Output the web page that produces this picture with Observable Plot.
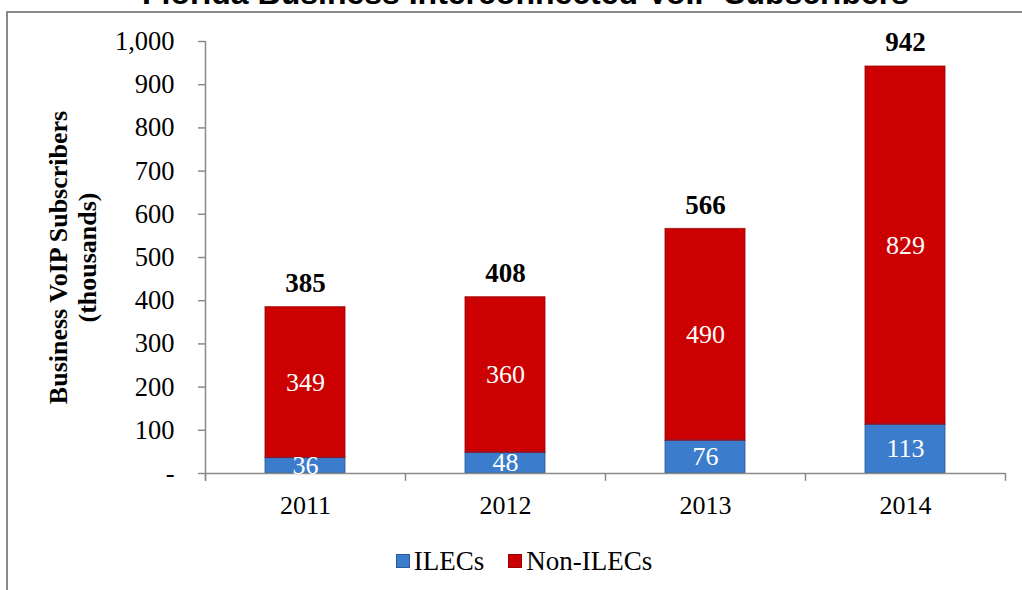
<!DOCTYPE html>
<html>
<head>
<meta charset="utf-8">
<script src="https://cdn.jsdelivr.net/npm/d3@7"></script>
<script src="https://cdn.jsdelivr.net/npm/@observablehq/plot@0.6"></script>
<style>
  html, body { margin: 0; padding: 0; background: #fff; overflow: hidden; width: 1022px; height: 590px; }
  #wrap { position: relative; width: 1022px; height: 590px; }
  #frame { position: absolute; left: 6px; top: 11px; width: 1100px; height: 700px; border: 2px solid #8a8a8a; box-sizing: border-box; }
  #chart { position: absolute; left: 0; top: 0; }
  #legend { position: absolute; top: 544px; left: 0; width: 1022px; text-align: center; font-family: "Liberation Serif", serif; font-size: 27px; color: #000; padding-left: 26px; box-sizing: border-box; }
  #legend span.item { display: inline-flex; align-items: center; margin: 0 12px; }
  #legend span.sw { display: inline-block; width: 14px; height: 14px; margin-right: 4px; box-sizing: border-box; }
</style>
</head>
<body>
<div id="wrap">
  <div id="frame"></div>
  <div id="chart"></div>
  <div id="legend"></div>
</div>
<script>
const title = "Florida Business Interconnected VoIP Subscribers";
const yAxisTitle = "Business VoIP Subscribers\n(thousands)";
const years = ["2011", "2012", "2013", "2014"];
const ilecs = [36, 48, 76, 113];
const nonIlecs = [349, 360, 490, 829];
const totals = [385, 408, 566, 942];
const seriesNames = ["ILECs", "Non-ILECs"];
const seriesColors = ["#3c7ccc", "#cc0000"];
const seriesEdges = ["#2a5a99", "#990000"];
const yTicks = [0, 100, 200, 300, 400, 500, 600, 700, 800, 900, 1000];

const segs = [];
years.forEach((yr, i) => {
  segs.push({i, series: seriesNames[0], y1: 0, y2: ilecs[i], value: ilecs[i]});
  segs.push({i, series: seriesNames[1], y1: ilecs[i], y2: ilecs[i] + nonIlecs[i], value: nonIlecs[i]});
});
const bounds = d3.range(years.length + 1);
const fmt = d => d === 0 ? "-" : d3.format(",")(d);

const plot = Plot.plot({
  width: 1022,
  height: 590,
  marginLeft: 205,
  marginRight: 17,
  marginTop: 41,
  marginBottom: 117,
  style: {fontFamily: "'Liberation Serif', serif", fontSize: "26px", color: "#000", background: "transparent", overflow: "visible"},
  x: {type: "linear", domain: [0, years.length], axis: null},
  y: {type: "linear", domain: [0, 1000], axis: null},
  color: {domain: seriesNames, range: seriesColors},
  marks: [
    // y axis line and ticks
    Plot.ruleX([0], {x: d => d, y1: -18, y2: 1000, stroke: "#8a8a8a", strokeWidth: 1.5}),
    Plot.ruleY(yTicks, {y: d => d, x1: -0.035, x2: 0, stroke: "#8a8a8a", strokeWidth: 1.5}),
    Plot.text(yTicks, {x: 0, y: d => d, text: fmt, textAnchor: "end", dx: -31, fontSize: 26.5, fill: "#000"}),
    // bars
    Plot.rect(segs, {x1: d => d.i + 0.3, x2: d => d.i + 0.7, y1: "y1", y2: "y2", fill: "series"}),
    Plot.rect(segs, {x1: d => d.i + 0.3, x2: d => d.i + 0.7, y1: "y1", y2: "y2", fill: "none", stroke: d => seriesEdges[seriesNames.indexOf(d.series)], strokeWidth: 1.2, strokeOpacity: 0.7}),
    // x axis line and tick marks
    Plot.ruleY([0], {y: d => d, x1: 0, x2: years.length, stroke: "#8a8a8a", strokeWidth: 1.5}),
    Plot.ruleX(bounds, {x: d => d, y1: 0, y2: -18, stroke: "#8a8a8a", strokeWidth: 1.5}),
    // x labels
    Plot.text(years, {x: (d, i) => i + 0.5, y: 0, text: d => d, dy: 32, fontSize: 26, fill: "#000"}),
    // segment labels
    Plot.text(segs, {x: d => d.i + 0.5, y: d => (d.y1 + d.y2) / 2, text: d => String(d.value), fill: "#fff", fontSize: 26}),
    // totals
    Plot.text(totals, {x: (d, i) => i + 0.5, y: d => d, text: d => String(d), dy: -24, fontSize: 27, fontWeight: "bold", fill: "#000"}),
    // y axis title
    Plot.text([yAxisTitle], {frameAnchor: "left", dx: -133, rotate: -90, textAnchor: "middle", fontWeight: "bold", fontSize: 26, lineHeight: 1.12, fill: "#000", lineAnchor: "middle"}),
    // chart title (cut off at top, as in the reference)
    Plot.text([title], {frameAnchor: "top", dx: -80, dy: -38, fontFamily: "'Liberation Sans', Arial, sans-serif", fontWeight: "bold", fontSize: 32, fill: "#000", lineAnchor: "bottom"})
  ]
});
document.getElementById("chart").appendChild(plot);

const leg = document.getElementById("legend");
seriesNames.forEach((name, k) => {
  const item = document.createElement("span");
  item.className = "item";
  const sw = document.createElement("span");
  sw.className = "sw";
  sw.style.background = seriesColors[k];
  sw.style.border = "1px solid " + seriesEdges[k];
  item.appendChild(sw);
  item.appendChild(document.createTextNode(name));
  leg.appendChild(item);
});
</script>
</body>
</html>
